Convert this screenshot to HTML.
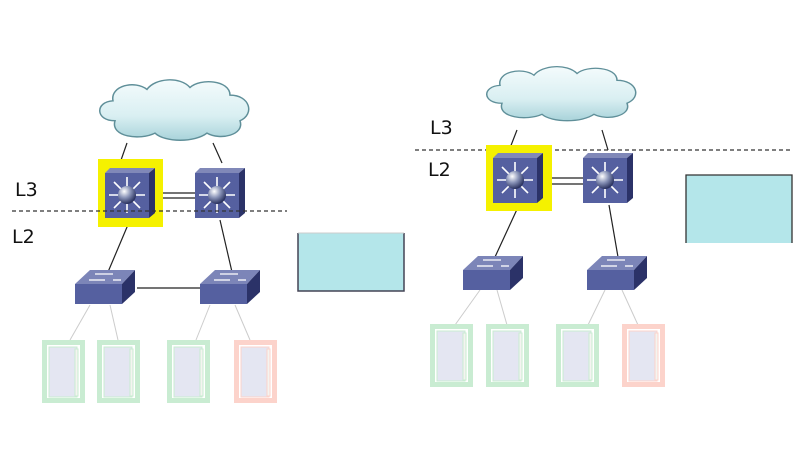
<!DOCTYPE html>
<html><head><meta charset="utf-8"><style>
html,body{margin:0;padding:0;background:#fff;}
svg{display:block;}
text{font-family:"DejaVu Sans","Liberation Sans",sans-serif;font-size:19px;fill:#111;}
</style></head><body>
<svg width="800" height="450" viewBox="0 0 800 450" xmlns="http://www.w3.org/2000/svg">
<defs>
<linearGradient id="cl" x1="0" y1="0" x2="0" y2="1"><stop offset="0" stop-color="#f4fbfc"/><stop offset="0.6" stop-color="#d9eff2"/><stop offset="1" stop-color="#a9d3da"/></linearGradient>
<radialGradient id="ball" cx="0.35" cy="0.3" r="0.7"><stop offset="0" stop-color="#fff"/><stop offset="0.5" stop-color="#8a94b8"/><stop offset="1" stop-color="#2b3360"/></radialGradient>
<g id="cloud">
<path d="M20,45 C0,45 0,25 18,24 C15,8 40,2 52,12 C60,0 85,-2 95,10 C105,0 135,2 135,18 C155,18 160,38 145,45 C150,60 125,66 112,58 C100,68 70,68 60,58 C45,66 15,62 20,45 Z" fill="url(#cl)" stroke="#5f8f99" stroke-width="1.5"/>
</g>
<g id="l3">
<polygon points="0,5 5,0 50,0 44,5" fill="#8088b8"/>
<polygon points="44,5 50,0 50,45 44,50" fill="#2b3268"/>
<rect x="0" y="5" width="44" height="45" fill="#5560a0"/>
<g stroke="#fff" stroke-width="1.6">
<line x1="22" y1="27" x2="22" y2="9"/><line x1="22" y1="27" x2="22" y2="45"/>
<line x1="22" y1="27" x2="4" y2="27"/><line x1="22" y1="27" x2="40" y2="27"/>
<line x1="22" y1="27" x2="9" y2="14"/><line x1="22" y1="27" x2="35" y2="14"/>
<line x1="22" y1="27" x2="9" y2="40"/><line x1="22" y1="27" x2="35" y2="40"/>
</g>
<circle cx="22" cy="27" r="9" fill="url(#ball)"/>
</g>
<g id="l2">
<polygon points="0,14 15,0 60,0 47,14" fill="#7c85b8"/>
<rect x="0" y="14" width="47" height="20" fill="#5560a0"/>
<polygon points="47,14 60,0 60,22 47,34" fill="#2b3268"/>
<g stroke="#fff" stroke-width="1.3"><line x1="20" y1="4" x2="38" y2="4"/><line x1="14" y1="10" x2="30" y2="10"/><line x1="38" y1="10" x2="46" y2="10"/></g>
</g>
<g id="host">
<rect x="2.5" y="2.5" width="38" height="58" fill="#fff" stroke-width="5"/>
<rect x="7" y="7" width="28" height="50" fill="#e4e6f2"/>
<rect x="33" y="9" width="3" height="47" fill="#f4f4f0"/>
</g>
</defs>

<!-- LEFT -->
<g stroke="#222" stroke-width="1.2">
<line x1="127" y1="143" x2="120" y2="163"/><line x1="213" y1="143" x2="222" y2="163"/>
<line x1="155" y1="193" x2="195" y2="193"/><line x1="155" y1="198" x2="195" y2="198"/>
<line x1="130" y1="220" x2="108" y2="272"/><line x1="220" y1="220" x2="232" y2="272"/>
<line x1="137" y1="288" x2="200" y2="288"/>
</g>
<g stroke="#ccc" stroke-width="1">
<line x1="90" y1="305" x2="70" y2="340"/><line x1="110" y1="305" x2="118" y2="340"/>
<line x1="210" y1="305" x2="196" y2="340"/><line x1="235" y1="305" x2="250" y2="340"/>
</g>
<use href="#cloud" transform="translate(95,78) scale(1.0,0.95)"/>
<rect x="98" y="159" width="65" height="68" fill="#f5f100"/>
<use href="#l3" transform="translate(105,168)"/>
<use href="#l3" transform="translate(195,168)"/>
<line x1="12" y1="211" x2="287" y2="211" stroke="#333" stroke-width="1.2" stroke-dasharray="4,3"/>
<text x="15" y="196">L3</text>
<text x="12" y="243">L2</text>
<use href="#l2" transform="translate(75,270)"/>
<use href="#l2" transform="translate(200,270)"/>
<use href="#host" transform="translate(42,340)" stroke="#c9ecd2"/>
<use href="#host" transform="translate(97,340)" stroke="#c9ecd2"/>
<use href="#host" transform="translate(167,340)" stroke="#c9ecd2"/>
<use href="#host" transform="translate(234,340)" stroke="#fcd3cb"/>
<rect x="298" y="233" width="106" height="58" fill="#b4e6ea"/>
<path d="M298,233 V291 H404 V233" fill="none" stroke="#445" stroke-width="1.5"/>
<line x1="298" y1="233" x2="404" y2="233" stroke="#ccc" stroke-width="1"/>

<!-- RIGHT -->
<g stroke="#222" stroke-width="1.2">
<line x1="517" y1="130" x2="510" y2="148"/><line x1="602" y1="130" x2="608" y2="150"/>
<line x1="543" y1="178" x2="583" y2="178"/><line x1="543" y1="184" x2="583" y2="184"/>
<line x1="519" y1="205" x2="495" y2="257"/><line x1="609" y1="205" x2="618" y2="257"/>
</g>
<g stroke="#ccc" stroke-width="1">
<line x1="480" y1="290" x2="455" y2="325"/><line x1="497" y1="290" x2="507" y2="325"/>
<line x1="605" y1="290" x2="588" y2="325"/><line x1="622" y1="290" x2="638" y2="325"/>
</g>
<use href="#cloud" transform="translate(482,65) scale(1.0,0.85)"/>
<line x1="415" y1="150" x2="790" y2="150" stroke="#333" stroke-width="1.2" stroke-dasharray="4,3"/>
<rect x="486" y="145" width="66" height="66" fill="#f5f100"/>
<use href="#l3" transform="translate(493,153)"/>
<use href="#l3" transform="translate(583,153)"/>
<text x="430" y="134">L3</text>
<text x="428" y="176">L2</text>
<use href="#l2" transform="translate(463,256)"/>
<use href="#l2" transform="translate(587,256)"/>
<use href="#host" transform="translate(430,324)" stroke="#c9ecd2"/>
<use href="#host" transform="translate(486,324)" stroke="#c9ecd2"/>
<use href="#host" transform="translate(556,324)" stroke="#c9ecd2"/>
<use href="#host" transform="translate(622,324)" stroke="#fcd3cb"/>
<rect x="686" y="175" width="106" height="68" fill="#b4e6ea"/>
<path d="M686,243 V175 H792 V243" fill="none" stroke="#333" stroke-width="1.3"/>
</svg>
</body></html>
